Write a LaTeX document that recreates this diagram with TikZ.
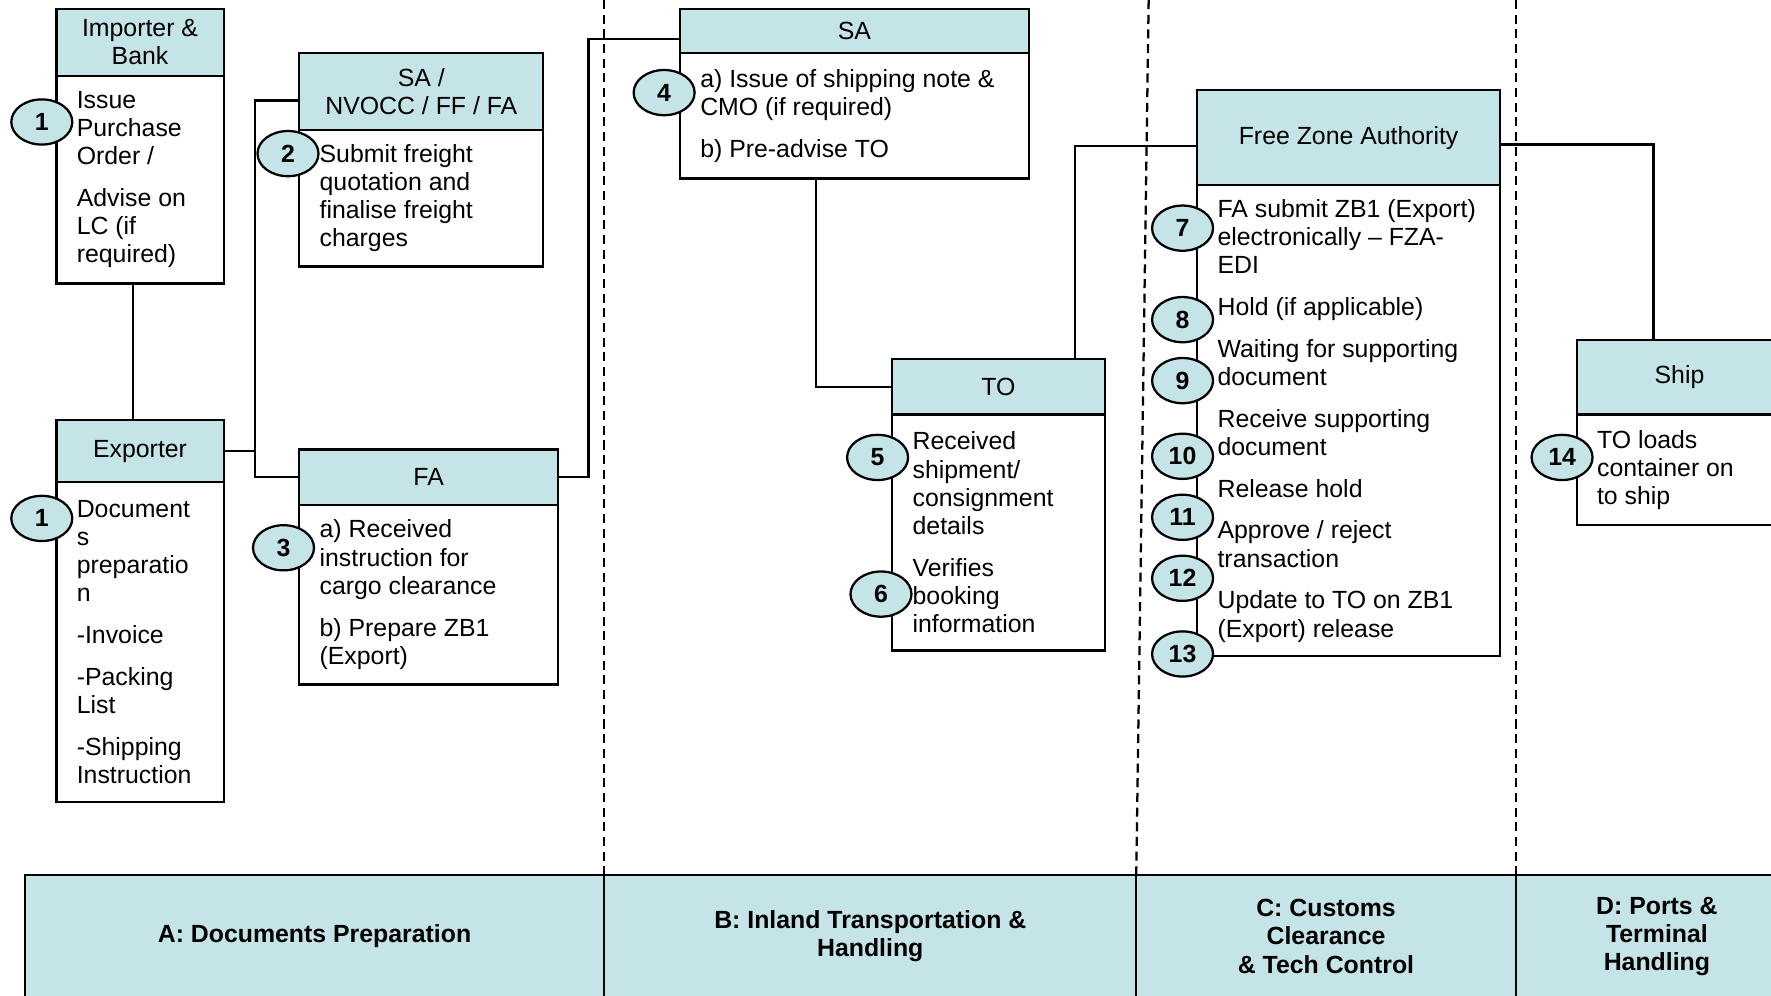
\documentclass[tikz,border=0pt]{standalone}
\usepackage{fontspec}
\setmainfont{Liberation Sans}
\usepackage{xcolor}
\definecolor{head01}{HTML}{C5E4E7}
\usepackage{tikz}
\usetikzlibrary{positioning, shapes}
\tikzset{
    hdr/.style={
        draw, line width=1pt,
        fill=head01,
        align=center,
        inner sep=0pt, outer sep=0pt,
        font=\fontsize{11}{12.5}\selectfont
    },
    bdy/.style={
        draw, line width=1pt,
        fill=white,
        align=flush left,
        inner xsep=9pt, inner ysep=0pt, outer sep=0pt,
        font=\fontsize{11}{12.5}\selectfont
    },
    num/.style={
        ellipse, draw, line width=1pt,
        fill=head01,
        inner sep=0pt,
        minimum width=27pt, minimum height=20pt,
        font=\fontsize{11}{12}\selectfont\bfseries
    },
    conn/.style={line width=1pt},
    lanesep/.style={line width=1pt, dash pattern=on 4pt off 2.5pt},
    phase/.style={
        draw, line width=1pt,
        fill=head01,
        align=center,
        inner sep=0pt, outer sep=0pt,
        minimum height=54pt,
        font=\fontsize{11}{12.5}\selectfont\bfseries
    },
}

\begin{document}
\begin{tikzpicture}
            [x=0.5pt, y=-0.5pt]
            \useasboundingbox (0,0) rectangle (1568,881);
            \clip (0,0) rectangle (1568,881);

            % Draw phase band
            \node[phase, anchor=north west, minimum width=256.5pt] (laneA) at (22,775) {A: Documents Preparation};
            \node[phase, right=0pt of laneA, minimum width=235.5pt] (laneB) {B: Inland Transportation \&\\Handling};
            \node[phase, right=0pt of laneB, minimum width=168pt] (laneC) {C: Customs\\Clearance\\\& Tech Control};
            \node[phase, right=0pt of laneC, minimum width=125pt] (laneD) {D: Ports \&\\Terminal\\Handling};

            \draw[lanesep] (laneB.north west) -- (laneB.north west |- 0,0);
            \draw[lanesep] (laneC.north west) -- ([xshift=5.5pt]laneC.north west |- 0,0);
            \draw[lanesep] (laneD.north west) -- (laneD.north west |- 0,0);

            % Draw importer and exporter
            \node[hdr, anchor=north west, minimum width=74pt, minimum height=29.5pt] (imph) at (50,8) {Importer \&\\Bank};
            \node[bdy, below=0pt of imph, text width=56pt, minimum height=92pt] (impb) {Issue\\Purchase\\Order /\\[6pt]Advise on\\LC (if\\required)};

            \node[hdr, anchor=north west, minimum width=74pt, minimum height=27.5pt] (exph) at (50,372) {Exporter};
            \node[bdy, below=0pt of exph, text width=56pt, minimum height=141.5pt] (expb) {Document\\s\\preparatio\\n\\[6pt]-Invoice\\[6pt]-Packing\\List\\[6pt]-Shipping\\Instruction};

            \draw[conn] ([xshift=-3pt]impb.south) -- ([xshift=-3pt]exph.north);

            % Draw agents
            \node[hdr, anchor=north west, minimum width=108pt, minimum height=34pt] (sanh) at (265,47) {SA /\\NVOCC / FF / FA};
            \node[bdy, below=0pt of sanh, text width=90pt, minimum height=60.5pt] (sanb) {Submit freight\\quotation and\\finalise freight\\charges};

            \node[hdr, anchor=north west, minimum width=114.5pt, minimum height=24.5pt] (fah) at (265,398) {FA};
            \node[bdy, below=0pt of fah, text width=96.5pt, minimum height=79.5pt] (fab) {a) Received\\instruction for\\cargo clearance\\[6pt]b) Prepare ZB1\\(Export)};

            \draw[conn] (exph.east) -- ++(28,0) coordinate (jexp);
            \draw[conn] ([yshift=-4pt]sanh.west) -| (jexp) |- (fah.west);

            % Draw inland transport
            \node[hdr, anchor=north west, minimum width=154.5pt, minimum height=19.5pt] (sah) at (602,8) {SA};
            \node[bdy, below=0pt of sah, text width=136.5pt, minimum height=55.5pt] (sab) {a) Issue of shipping note \&\\CMO (if required)\\[6pt]b) Pre-advise TO};

            \node[hdr, anchor=north west, minimum width=94pt, minimum height=24.5pt] (toh) at (790,318) {TO};
            \node[bdy, below=0pt of toh, text width=76pt, minimum height=104.5pt] (tob) {Received\\shipment/\\consignment\\details\\[6pt]Verifies\\booking\\information};

            \draw[conn] (fah.east) -- ++(27,0) |- ([yshift=-3.5pt]sah.west);
            \draw[conn] ([xshift=-17pt]sab.south) |- (toh.west);

            % Draw customs
            \node[hdr, anchor=north west, minimum width=134pt, minimum height=42pt] (fzah) at (1060,80) {Free Zone Authority};
            \node[bdy, below=0pt of fzah, text width=116pt, minimum height=208.5pt] (fzab) {FA submit ZB1 (Export)\\electronically -- FZA-\\EDI\\[6pt]Hold (if applicable)\\[6pt]Waiting for supporting\\document\\[6pt]Receive supporting\\document\\[6pt]Release hold\\[6pt]Approve / reject\\transaction\\[6pt]Update to TO on ZB1\\(Export) release};

            \draw[conn] ([xshift=-13pt]toh.north east) |- ([yshift=-3.5pt]fzah.west);

            % Draw ports
            \node[hdr, anchor=north west, minimum width=91pt, minimum height=33pt] (shiph) at (1396,301) {Ship};
            \node[bdy, below=0pt of shiph, text width=73pt, minimum height=49pt] (shipb) {TO loads\\container on\\to ship};

            \draw[conn] ([yshift=-3pt]fzah.east) -| ([xshift=-11.5pt]shiph.north);

            % Draw step numbers
            \node[num] (n1a) at (37,108) {1};
            \node[num] (n1b) at (37,459) {1};
            \node[num] (n2) at (255,136) {2};
            \node[num] (n3) at (251,485) {3};
            \node[num] (n4) at (588,82) {4};
            \node[num] (n5) at (777,405) {5};
            \node[num] (n6) at (780,526) {6};
            \node[num] (n7) at (1047,202) {7};
            \node[num] (n8) at (1047,283) {8};
            \node[num] (n9) at (1047,337) {9};
            \node[num] (n10) at (1047,404) {10};
            \node[num] (n11) at (1047,458) {11};
            \node[num] (n12) at (1047,512) {12};
            \node[num] (n13) at (1047,579) {13};
            \node[num] (n14) at (1383,405) {14};

        \end{tikzpicture}
\end{document}
